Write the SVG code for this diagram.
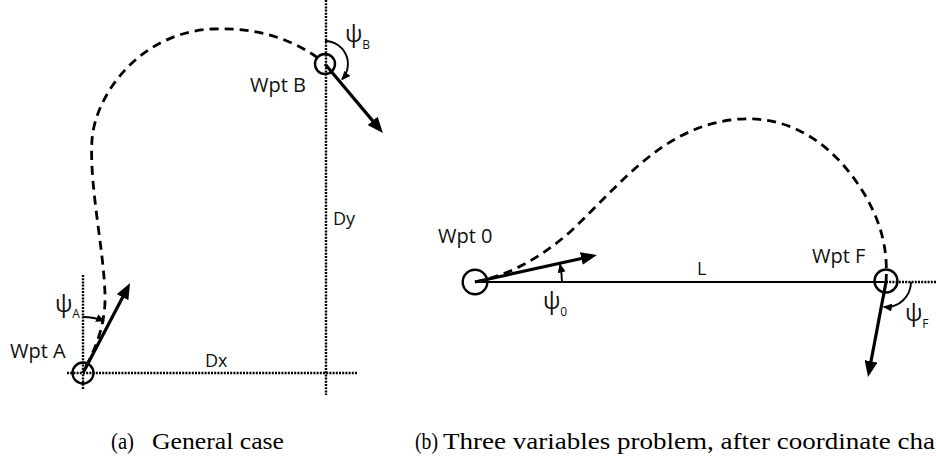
<svg xmlns="http://www.w3.org/2000/svg" width="936" height="459" viewBox="0 0 936 459">
<defs>
<marker id="head" markerUnits="userSpaceOnUse" viewBox="0 0 16 13" markerWidth="16" markerHeight="13" refX="6" refY="6.5" orient="auto"><path d="M0,0 L16,6.5 L0,13 z" fill="#000"/></marker>
<marker id="small" markerUnits="userSpaceOnUse" viewBox="0 0 9 8" markerWidth="9" markerHeight="8" refX="8" refY="4" orient="auto"><path d="M0,0 L9,4 L0,8 z" fill="#000"/></marker>
<style>
.lbl{font-family:"Open Sans","DejaVu Sans",sans-serif;fill:#111}
.wpt{font-size:20px}
.psi{font-size:23px}
.sub{font-size:12px}
.dim{font-size:18px}
.cap{font-family:"Liberation Serif","DejaVu Serif",serif;font-size:24px;fill:#000}
.wp{fill:none;stroke:#000;stroke-width:2.4}
.dash{fill:none;stroke:#000;stroke-width:2.8;stroke-dasharray:9 6}
.dot{fill:none;stroke:#000;stroke-width:2.4;stroke-dasharray:2 1.2}
.arr{fill:none;stroke:#000;stroke-width:3.2;marker-end:url(#head)}
.arc{fill:none;stroke:#000;stroke-width:1.9;marker-end:url(#small)}
.solid{fill:none;stroke:#000;stroke-width:2}
</style>
</defs>
<rect width="936" height="459" fill="#fff"/>

<g id="connectors">
  <!-- panel (a) -->
  <path class="dot" d="M83 275 V389"/>
  <path class="dot" d="M67 373 H358"/>
  <path class="dot" d="M326 0 V395"/>
  <path class="dash" d="M86 366 C96 348,106 322,105 295 C104 250,89 185,92 140 C95 95,140 32,213 29 C255 27.3,290 38,318 58"/>
  <path class="arr" d="M83 373 L125.4 291.9"/>
  <path class="arr" d="M325 64 L376.5 125.4"/>
  <path class="arc" d="M83 317 A56 56 0 0 1 104 321"/>
  <path class="arc" d="M325 41 A23 23 0 0 1 342 79.4"/>
  <!-- panel (b) -->
  <path class="solid" d="M475 282 H886"/>
  <path class="dot" d="M886 282 H936"/>
  <path class="dash" d="M475 282 C510 275,540 258,570 232 C620 185,660 130,730 120 C790 112,835 145,865 195 C882 225,888 250,886 282"/>
  <path class="arr" d="M475 282 L587.2 257.2"/>
  <path class="arr" d="M886 282 L869.9 367.2"/>
  <path class="arc" d="M562 282 A87 87 0 0 0 560 264.5"/>
  <path class="arc" d="M911 282 A25 25 0 0 1 883.8 306.9"/>
</g>

<g id="wptA">
  <circle class="wp" cx="83" cy="373" r="10.5"/>
  <text class="lbl wpt" x="10" y="358">Wpt A</text>
</g>
<g id="wptB">
  <circle class="wp" cx="325" cy="64" r="10"/>
  <text class="lbl wpt" x="250" y="92">Wpt B</text>
</g>
<g id="wpt0">
  <circle class="wp" cx="475" cy="282" r="12.3"/>
  <text class="lbl wpt" x="438" y="243">Wpt 0</text>
</g>
<g id="wptF">
  <circle class="wp" cx="886" cy="281" r="11.5"/>
  <text class="lbl wpt" x="812" y="263">Wpt F</text>
</g>

<g id="labels">
  <text class="lbl psi" x="55" y="312">ψ<tspan class="sub" dy="6">A</tspan></text>
  <text class="lbl psi" x="345" y="42">ψ<tspan class="sub" dy="7">B</tspan></text>
  <text class="lbl psi" x="543" y="309">ψ<tspan class="sub" dy="7">0</tspan></text>
  <text class="lbl psi" x="905" y="321">ψ<tspan class="sub" dy="7">F</tspan></text>
  <text class="lbl dim" x="205" y="367">Dx</text>
  <text class="lbl dim" x="333" y="225">Dy</text>
  <text class="lbl dim" x="697" y="275">L</text>
</g>

<g id="captions">
  <text class="cap" x="111" y="449" textLength="23" lengthAdjust="spacingAndGlyphs">(a)</text>
  <text class="cap" x="152" y="449" textLength="132" lengthAdjust="spacingAndGlyphs">General case</text>
  <text class="cap" x="415" y="449" textLength="23" lengthAdjust="spacingAndGlyphs">(b)</text>
  <text class="cap" x="443" y="449" textLength="492" lengthAdjust="spacingAndGlyphs">Three variables problem, after coordinate cha</text>
</g>
</svg>
